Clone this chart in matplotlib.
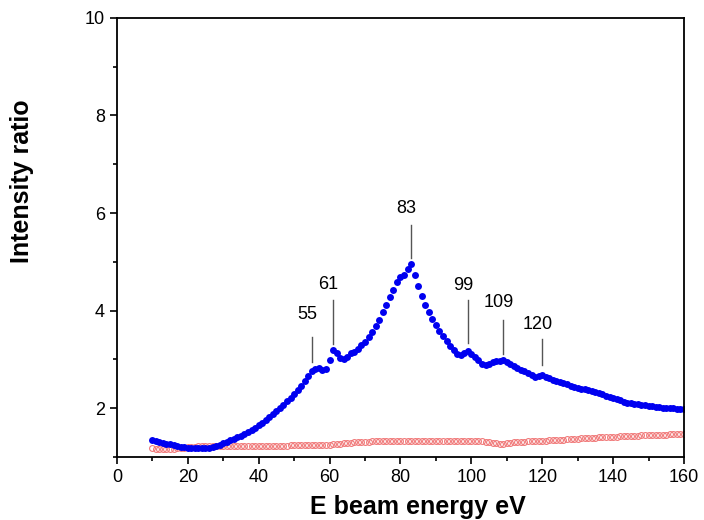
import numpy as np
import matplotlib
matplotlib.use("Agg")
from matplotlib import pyplot as plt
from matplotlib.ticker import MultipleLocator

plt.rcParams['font.family'] = ['Liberation Sans', 'DejaVu Sans']

# energie-as (eV), stap van 1 eV
energy = np.arange(10, 161)

# blauwe reeks (gevulde punten)
ratio_blue = [
    1.34, 1.33, 1.31, 1.29, 1.27, 1.26, 1.24, 1.23, 1.21, 1.20,
    1.19, 1.18, 1.17, 1.17, 1.17, 1.18, 1.19, 1.21, 1.23, 1.25,
    1.28, 1.31, 1.34, 1.37, 1.40, 1.43, 1.47, 1.51, 1.55, 1.60,
    1.65, 1.70, 1.75, 1.81, 1.87, 1.93, 2.00, 2.07, 2.14, 2.21,
    2.28, 2.36, 2.45, 2.55, 2.66, 2.75, 2.80, 2.82, 2.79, 2.80,
    2.98, 3.18, 3.12, 3.03, 3.00, 3.05, 3.13, 3.15, 3.22, 3.30,
    3.36, 3.46, 3.56, 3.68, 3.81, 3.96, 4.12, 4.28, 4.43, 4.58,
    4.68, 4.72, 4.85, 4.95, 4.72, 4.50, 4.30, 4.12, 3.96, 3.82,
    3.70, 3.58, 3.47, 3.37, 3.28, 3.18, 3.10, 3.09, 3.13, 3.16,
    3.10, 3.04, 2.98, 2.91, 2.88, 2.91, 2.94, 2.96, 2.97, 2.98,
    2.94, 2.90, 2.86, 2.82, 2.78, 2.75, 2.71, 2.67, 2.63, 2.66,
    2.67, 2.64, 2.61, 2.58, 2.56, 2.53, 2.51, 2.49, 2.46, 2.44,
    2.42, 2.40, 2.38, 2.36, 2.34, 2.32, 2.30, 2.28, 2.25, 2.23,
    2.20, 2.18, 2.16, 2.13, 2.11, 2.10, 2.09, 2.08, 2.07, 2.06,
    2.05, 2.04, 2.03, 2.02, 2.01, 2.01, 2.00, 2.00, 1.99, 1.99,
    1.98,
]

# rode reeks (open cirkels)
ratio_red = [
    1.17, 1.16, 1.15, 1.15, 1.15, 1.15, 1.16, 1.17, 1.18, 1.19,
    1.20, 1.21, 1.21, 1.22, 1.22, 1.22, 1.22, 1.22, 1.22, 1.22,
    1.22, 1.22, 1.22, 1.22, 1.22, 1.22, 1.22, 1.22, 1.22, 1.22,
    1.22, 1.22, 1.23, 1.23, 1.23, 1.23, 1.23, 1.23, 1.23, 1.24,
    1.24, 1.24, 1.24, 1.24, 1.24, 1.25, 1.25, 1.25, 1.25, 1.25,
    1.25, 1.26, 1.26, 1.27, 1.28, 1.29, 1.29, 1.30, 1.30, 1.31,
    1.31, 1.31, 1.32, 1.32, 1.32, 1.32, 1.32, 1.32, 1.32, 1.32,
    1.32, 1.32, 1.33, 1.33, 1.33, 1.33, 1.33, 1.33, 1.33, 1.33,
    1.33, 1.33, 1.33, 1.33, 1.33, 1.33, 1.33, 1.33, 1.33, 1.33,
    1.32, 1.32, 1.32, 1.32, 1.31, 1.30, 1.29, 1.28, 1.27, 1.27,
    1.28, 1.29, 1.30, 1.30, 1.31, 1.31, 1.32, 1.32, 1.32, 1.33,
    1.33, 1.33, 1.34, 1.34, 1.35, 1.35, 1.35, 1.36, 1.36, 1.37,
    1.37, 1.38, 1.38, 1.38, 1.39, 1.39, 1.40, 1.40, 1.40, 1.41,
    1.41, 1.41, 1.42, 1.42, 1.42, 1.43, 1.43, 1.43, 1.44, 1.44,
    1.44, 1.44, 1.45, 1.45, 1.45, 1.45, 1.46, 1.46, 1.46, 1.47,
    1.47,
]

# piek-labels
peaks = [55, 61, 83, 99, 109, 120]
# plaatsing: (tekst y, lijn boven, lijn onder)
peak_pos = [(3.91, 3.46, 2.94), (4.54, 4.22, 3.31), (6.10, 5.75, 5.08),
            (4.52, 4.22, 3.33), (4.17, 3.80, 3.10), (3.72, 3.42, 2.88)]

fig = plt.figure(figsize=(7.04, 5.2), dpi=100)
ax = fig.add_axes([0.166, 0.1216, 0.8056, 0.8438])

ax.plot(energy, ratio_red, linestyle='none', marker='o', markersize=4.2,
        markerfacecolor='none', markeredgecolor='#f07878', markeredgewidth=0.8)
ax.plot(energy, ratio_blue, linestyle='none', marker='o', markersize=5,
        color='#0000f0', markeredgewidth=0)

for p, (ty, y1, y2) in zip(peaks, peak_pos):
    ax.plot([p, p], [y1, y2], color='#555555', linewidth=1)
    ax.text(p - 1.3, ty, str(p), ha='center', va='center', fontsize=13)

ax.set_xlim(0, 160)
ax.set_ylim(1, 10)
ax.xaxis.set_major_locator(MultipleLocator(20))
ax.xaxis.set_minor_locator(MultipleLocator(10))
ax.yaxis.set_major_locator(MultipleLocator(2))
ax.yaxis.set_minor_locator(MultipleLocator(1))
ax.tick_params(which='both', direction='out', top=False, right=False, labelsize=13, width=1.2)
ax.tick_params(which='major', length=5)
ax.tick_params(which='minor', length=3)
for s in ax.spines.values():
    s.set_linewidth(1.3)

ax.set_xlabel('E beam energy eV', fontsize=18, fontweight='bold', va='center')
ax.set_ylabel('Intensity ratio', fontsize=18, fontweight='bold', va='center')
ax.xaxis.set_label_coords(0.531, -0.1145)
ax.yaxis.set_label_coords(-0.1675, 0.628)

fig.savefig('out.png', dpi=100)
